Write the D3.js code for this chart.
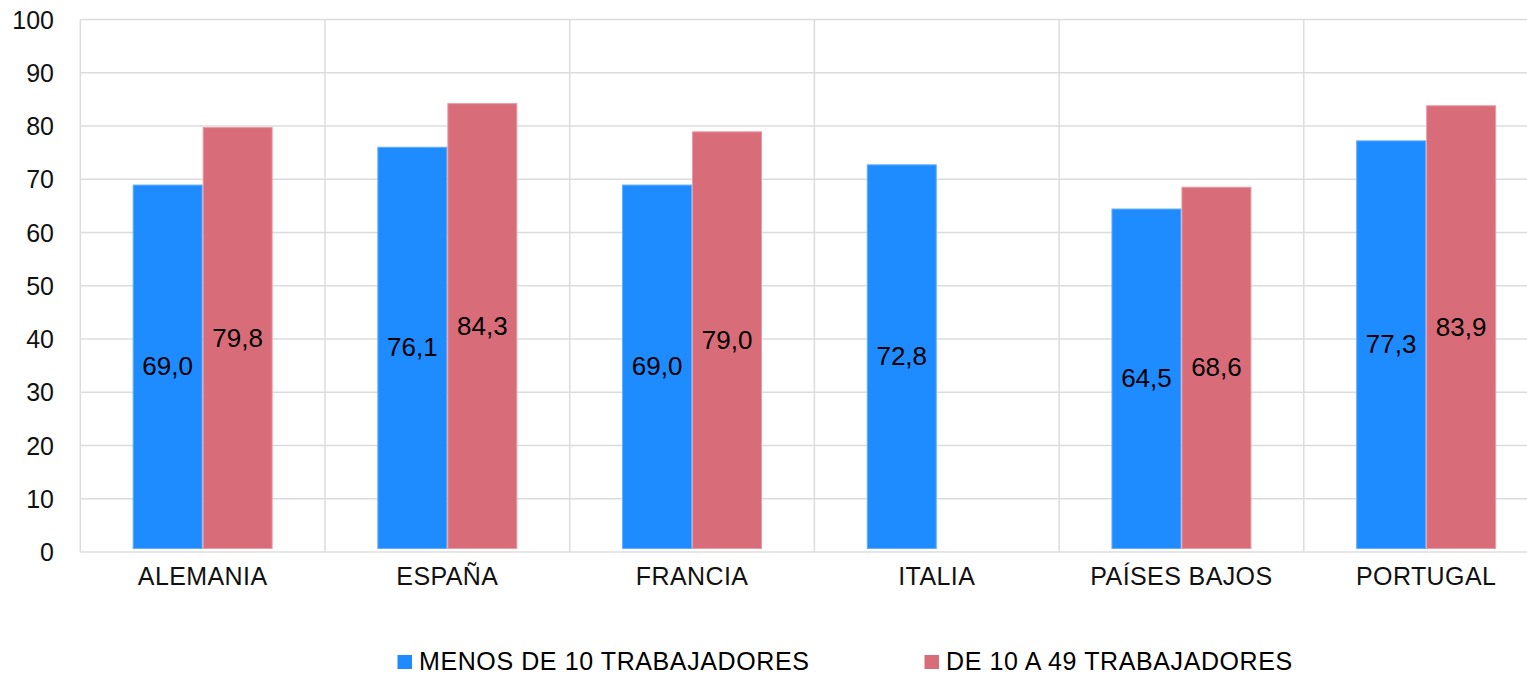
<!DOCTYPE html>
<html><head><meta charset="utf-8">
<script src="https://cdn.jsdelivr.net/npm/d3@7"></script>
<style>body{margin:0;background:#fff;}svg{display:block;font-family:"Liberation Sans",Arial,sans-serif;}</style>
</head><body>
<svg id="c" width="1527" height="674"></svg>
<script>
const categories = ["ALEMANIA","ESPAÑA","FRANCIA","ITALIA","PAÍSES BAJOS","PORTUGAL"];
const seriesNames = ["MENOS DE 10 TRABAJADORES","DE 10 A 49 TRABAJADORES"];
const menos10 = [69.0, 76.1, 69.0, 72.8, 64.5, 77.3];
const de10a49 = [79.8, 84.3, 79.0, null, 68.6, 83.9];
const yTicks = [0,10,20,30,40,50,60,70,80,90,100];
const colors = ["#1E8CFF","#D96C79"];
const strokes = ["#62adff","#eb9aa4"];

(function(){
const svg = d3.select("#c");
const pL = 80.3, pR = 1548.5, pT = 19.5, pB = 552;
const x0 = d3.scaleBand().domain(categories).range([pL, pR]).paddingInner(0).paddingOuter(0);
const y = d3.scaleLinear().domain([0,100]).range([pB, pT]);
const groupW = x0.bandwidth()*0.572;
const x1 = d3.scaleBand().domain([0,1]).range([-groupW/2, groupW/2]);

const g = svg.append("g");
g.selectAll(".h").data(yTicks).join("line")
  .attr("x1", pL).attr("x2", pR).attr("y1", d=>y(d)).attr("y2", d=>y(d))
  .attr("stroke", "#dcdcdc").attr("stroke-width", 1.5);
const vlines = categories.map(c=>x0(c)).concat([pR]);
g.selectAll(".v").data(vlines).join("line")
  .attr("x1", d=>d).attr("x2", d=>d).attr("y1", pT).attr("y2", pB)
  .attr("stroke", "#dcdcdc").attr("stroke-width", 1.5);

svg.append("g").selectAll("text").data(yTicks).join("text")
  .attr("x", 54).attr("y", d=>y(d)).attr("text-anchor","end").attr("dominant-baseline","central")
  .attr("font-size", 25).attr("fill","#111").text(d=>d);

svg.append("g").selectAll("text").data(categories).join("text")
  .attr("x", d=>x0(d)+x0.bandwidth()/2).attr("y", 576).attr("text-anchor","middle").attr("dominant-baseline","central")
  .attr("font-size", 25).attr("letter-spacing", 0.4).attr("fill","#111").text(d=>d);

const series = [menos10, de10a49];
const fmt = v => v.toFixed(1).replace(".", ",");
series.forEach((vals, si) => {
  const data = categories.map((c,i)=>({c, v: vals[i]})).filter(d=>d.v!=null);
  svg.append("g").selectAll("rect").data(data).join("rect")
    .attr("x", d=>x0(d.c)+x0.bandwidth()/2 + x1(si)+0.5)
    .attr("width", x1.bandwidth()-1)
    .attr("y", d=>y(d.v)+0.5)
    .attr("height", d=>y(0)-4-y(d.v))
    .attr("fill", colors[si]).attr("stroke", strokes[si]).attr("stroke-width", 1);
  svg.append("g").selectAll("text").data(data).join("text")
    .attr("x", d=>x0(d.c)+x0.bandwidth()/2 + x1(si)+x1.bandwidth()/2)
    .attr("y", d=>(y(d.v)+y(0)-4)/2)
    .attr("text-anchor","middle").attr("dominant-baseline","central")
    .attr("font-size", 26).attr("fill","#000").text(d=>fmt(d.v));
});

const legX = [397.5, 924.5];
const leg = svg.append("g");
seriesNames.forEach((n,i)=>{
  leg.append("rect").attr("x", legX[i]).attr("y", 655).attr("width", 14.5).attr("height", 14).attr("fill", colors[i]);
  leg.append("text").attr("x", legX[i]+21.5).attr("y", 669.5)
    .attr("font-size", 25).attr("letter-spacing", 0.6).attr("fill","#000").text(n);
});
})();
</script>
</body></html>
